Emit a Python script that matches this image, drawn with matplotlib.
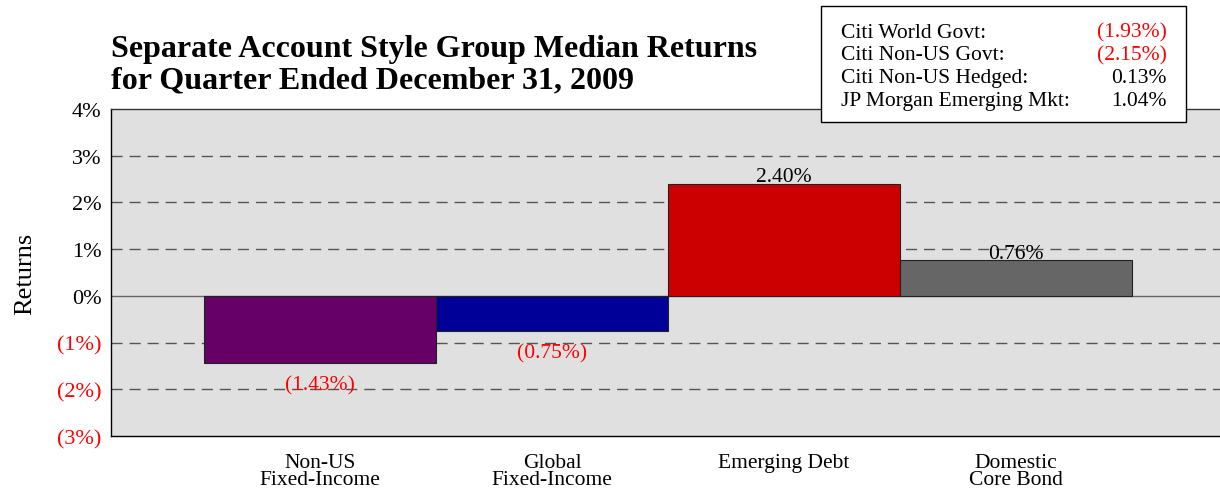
import matplotlib
matplotlib.use("Agg")
import matplotlib.pyplot as plt

# data
categories = ["Non-US\nFixed-Income", "Global\nFixed-Income", "Emerging Debt", "Domestic\nCore Bond"]
returns = [-1.43, -0.75, 2.40, 0.76]
bar_colors = ["#660066", "#000099", "#CC0000", "#666666"]
yticks = [4, 3, 2, 1, 0, -1, -2, -3]
index_names = ["Citi World Govt:", "Citi Non-US Govt:", "Citi Non-US Hedged:", "JP Morgan Emerging Mkt:"]
index_returns = [-1.93, -2.15, 0.13, 1.04]
title_lines = ["Separate Account Style Group Median Returns", "for Quarter Ended December 31, 2009"]


def fmt_pct(v, digits=2):
    s = f"{abs(v):.{digits}f}%"
    return f"({s})" if v < 0 else s


plt.rcParams["font.family"] = ["Liberation Serif", "DejaVu Serif"]
FS = 15.5

fig = plt.figure(figsize=(12.2, 4.89), dpi=100)
ax = fig.add_axes([0.091, 0.106, 0.909, 0.669])
ax.set_facecolor("#E0E0E0")

x = list(range(len(categories)))
ax.bar(x, returns, width=1.0, color=bar_colors, edgecolor="#222222", linewidth=0.8, zorder=3)

ax.set_xlim(-0.901, 3.879)
ax.set_ylim(-3, 4)

# dashed grid, solid zero line
for t in yticks:
    if t == 0:
        ax.axhline(0, color="#666666", linewidth=1.0, zorder=2)
    elif -3 < t < 4:
        ax.axhline(t, color="#555555", linewidth=1.0, linestyle=(0, (8, 5)), zorder=1)

ax.set_yticks(yticks)
ax.set_yticklabels([f"({abs(t)}%)" if t < 0 else f"{t}%" for t in yticks], fontsize=16)
for lbl, t in zip(ax.get_yticklabels(), yticks):
    if t < 0:
        lbl.set_color("red")
ax.set_xticks(x)
ax.set_xticklabels(categories, fontsize=FS, linespacing=0.85)
ax.tick_params(axis="both", length=0, pad=7)
ax.tick_params(axis="x", pad=12)

ax.spines["right"].set_visible(False)
ax.spines["top"].set_color("#333333")
for sp in ["left", "bottom", "top"]:
    ax.spines[sp].set_linewidth(1.0)

ax.set_ylabel("Returns", fontsize=19, labelpad=15)

# value labels
for xi, v in zip(x, returns):
    if v < 0:
        ax.annotate(fmt_pct(v), (xi, v), xytext=(0, -9), textcoords="offset points",
                    ha="center", va="top", fontsize=FS, color="red", zorder=4)
    else:
        ax.annotate(fmt_pct(v), (xi, v), xytext=(0, 2), textcoords="offset points",
                    ha="center", va="baseline", fontsize=FS, color="black", zorder=4)

for i, line in enumerate(title_lines):
    fig.text(0.091, 1 - (57 + 31 * i) / 489, line, fontsize=23, fontweight="bold",
             ha="left", va="baseline")

# index returns box
box = plt.Rectangle((821 / 1220, 1 - 123 / 489), 365 / 1220, 116 / 489, transform=fig.transFigure,
                    facecolor="white", edgecolor="black", linewidth=1.0, zorder=5)
fig.add_artist(box)
for i, (name, v) in enumerate(zip(index_names, index_returns)):
    y = 1 - (33 + 22.7 * i) / 489
    fig.text(841 / 1220, y, name, fontsize=FS, ha="left", va="center", zorder=6)
    fig.text(1167 / 1220, y, fmt_pct(v), fontsize=FS, ha="right", va="center",
             color="red" if v < 0 else "black", zorder=6)

fig.savefig("out.png", dpi=100)
